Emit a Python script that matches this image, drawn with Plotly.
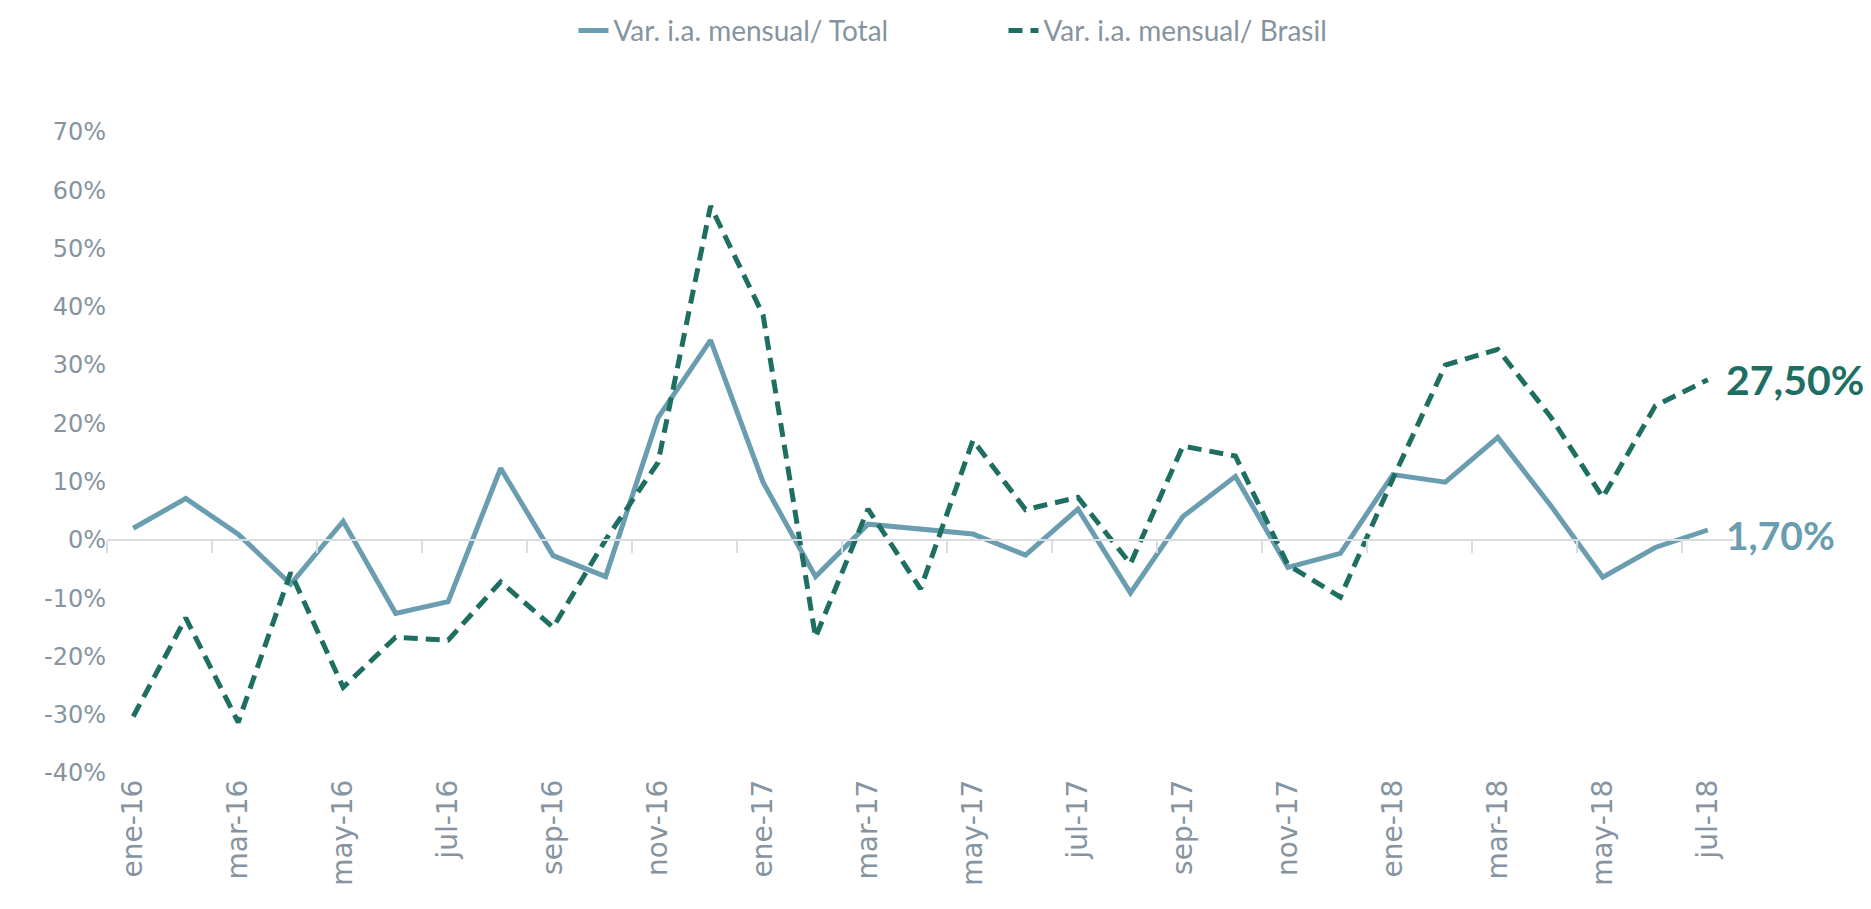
import plotly.graph_objects as go

months = ["ene-16","feb-16","mar-16","abr-16","may-16","jun-16","jul-16","ago-16","sep-16","oct-16","nov-16","dic-16",
          "ene-17","feb-17","mar-17","abr-17","may-17","jun-17","jul-17","ago-17","sep-17","oct-17","nov-17","dic-17",
          "ene-18","feb-18","mar-18","abr-18","may-18","jun-18","jul-18"]

total = [0.020, 0.071, 0.010, -0.076, 0.032, -0.126, -0.106, 0.123, -0.027, -0.063, 0.210, 0.343,
         0.099, -0.063, 0.027, 0.019, 0.010, -0.026, 0.053, -0.091, 0.040, 0.109, -0.047, -0.023,
         0.112, 0.099, 0.176, 0.060, -0.064, -0.013, 0.017]

brasil = [-0.303, -0.134, -0.313, -0.056, -0.253, -0.167, -0.172, -0.072, -0.150, 0.000, 0.133, 0.573,
          0.386, -0.167, 0.053, -0.084, 0.171, 0.052, 0.073, -0.041, 0.161, 0.144, -0.043, -0.098,
          0.105, 0.300, 0.327, 0.212, 0.073, 0.230, 0.275]

y_ticks = [-0.4, -0.3, -0.2, -0.1, 0.0, 0.1, 0.2, 0.3, 0.4, 0.5, 0.6, 0.7]
y_ticktext = ["-40%", "-30%", "-20%", "-10%", "0%", "10%", "20%", "30%", "40%", "50%", "60%", "70%"]

names = ["Var. i.a. mensual/ Total", "Var. i.a. mensual/ Brasil"]
c_total = "#6a9db0"
c_brasil = "#1e6e62"
c_grey = "#8594a0"

idx = list(range(len(months)))

fig = go.Figure()
fig.add_trace(go.Scatter(x=idx, y=total, mode="lines", name=names[0],
                         line=dict(color=c_total, width=5), hoverinfo="skip"))
fig.add_trace(go.Scatter(x=idx, y=brasil, mode="lines", name=names[1],
                         line=dict(color=c_brasil, width=5, dash="14px,8px"), hoverinfo="skip"))
# invisible trace to carry the zero-crossing category axis
fig.add_trace(go.Scatter(x=idx, y=total, mode="lines", xaxis="x2", yaxis="y",
                         line=dict(width=0), opacity=0, showlegend=False, hoverinfo="skip"))

fig.add_annotation(x=idx[-1], y=brasil[-1], xref="x", yref="y",
                   text=f"{brasil[-1]*100:.2f}%".replace(".", ","), showarrow=False,
                   xanchor="left", yanchor="middle", xshift=16,
                   font=dict(family="Lato", size=41, color=c_brasil, weight="bold"))
fig.add_annotation(x=idx[-1], y=total[-1], xref="x", yref="y",
                   text=f"{total[-1]*100:.2f}%".replace(".", ","), showarrow=False,
                   xanchor="left", yanchor="middle", xshift=16, yshift=-5,
                   font=dict(family="Lato", size=39, color=c_total, weight="bold"))

zero_pos = (0 - y_ticks[0]) / (y_ticks[-1] - y_ticks[0])

fig.update_layout(
    width=1871, height=909,
    margin=dict(l=99, r=145, t=124, b=144, autoexpand=False),
    plot_bgcolor="white", paper_bgcolor="white",
    showlegend=True,
    legend=dict(orientation="h", x=0.551, xanchor="center", y=1.158, yanchor="middle",
                font=dict(family="Lato", size=28, color=c_grey), entrywidth=385, entrywidthmode="pixels"),
    xaxis=dict(range=[-0.5, len(months) - 0.5], tickvals=idx[::2], ticktext=months[::2],
               tickangle=-90, showgrid=False, zeroline=False, showline=False, ticks="",
               tickfont=dict(family="DejaVu Sans", size=28, color=c_grey)),
    xaxis2=dict(range=[-0.5, len(months) - 0.5], overlaying="x", anchor="free", position=zero_pos,
                tickvals=[i - 0.5 for i in idx[::2]], showticklabels=False, ticks="outside",
                ticklen=12, tickcolor="#d9dde2", tickwidth=2, showline=True, linecolor="#d9dde2",
                linewidth=2, showgrid=False, zeroline=False, side="bottom"),
    yaxis=dict(range=[y_ticks[0], y_ticks[-1]], tickvals=y_ticks, ticktext=y_ticktext,
               showgrid=False, zeroline=False, showline=False, ticks="",
               tickfont=dict(family="DejaVu Sans", size=24, color=c_grey)),
)

fig.write_html("out.html")
